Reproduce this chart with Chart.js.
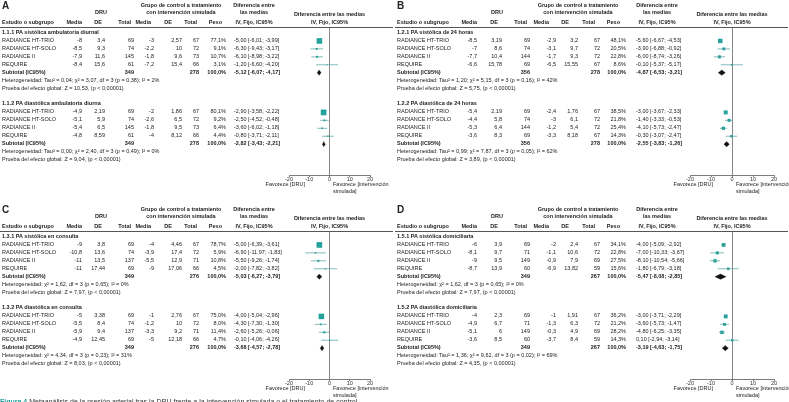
<!DOCTYPE html>
<html lang="es">
<head>
<meta charset="UTF-8">
<title>Metaanálisis DRU</title>
<script src="https://cdn.jsdelivr.net/npm/chart.js"></script>
<style>
  body { margin: 0; background: #fff; width: 789px; height: 402px; overflow: hidden; position: relative;
         font-family: "Liberation Sans", Arial, sans-serif; color: #222; }
  .panel { position: absolute; width: 395px; height: 198px; }
  .panel canvas { position: absolute; left: 0; top: 0; }
  .t { position: absolute; font-size: 5.5px; line-height: 1; white-space: nowrap; transform: translateY(-50%); }
  .b { font-weight: bold; }
  .rule { position: absolute; left: 0; width: 393px; top: 27px; border-top: 0.7px solid #555; }
  .letter { position: absolute; left: 2px; top: 0px; font-size: 10px; font-weight: bold; }
  .caption { position: absolute; left: 0; top: 398px; font-size: 7px; white-space: nowrap; color: #333; }
  .caption span { color: #1fa29c; font-weight: bold; }
</style>
</head>
<body>
<div id="fig"></div>
<div class="caption"><span>Figura 4</span> Metaanálisis de la presión arterial tras la DRU frente a la intervención simulada o el tratamiento de control.</div>
<script>
// ---- datos ----
const studies = ['RADIANCE HT-TRIO', 'RADIANCE HT-SOLO', 'RADIANCE II', 'REQUIRE'];
const axisTicks = [-20, -10, 0, 10, 20];

// A
const a1Title = '1.1.1 PA sistólica ambulatoria diurnal';
const a1Rows = [
  ['-8', '3,4', '69', '-3', '2,57', '67', '77,1%', '-5,00 [-6,01; -3,99]'],
  ['-8,5', '9,3', '74', '-2,2', '10', '72', '9,1%', '-6,30 [-9,43; -3,17]'],
  ['-7,9', '11,6', '145', '-1,8', '9,6', '73', '10,7%', '-6,10 [-8,98; -3,22]'],
  ['-8,4', '15,6', '61', '-7,2', '15,4', '66', '3,1%', '-1,20 [-6,60; -4,20]']
];
const a1Est = [-5.00, -6.30, -6.10, -1.20];
const a1Lo = [-6.01, -9.43, -8.98, -6.60];
const a1Hi = [-3.99, -3.17, -3.22, 4.20];
const a1Peso = [77.1, 9.1, 10.7, 3.1];
const a1Sub = ['349', '278', '100,0%', '-5,12 [-6,07; -4,17]'];
const a1SubCI = [-5.12, -6.07, -4.17];
const a1Het = 'Heterogeneidad: Tau² = 0,04; χ² = 3,07, df = 3 (p = 0,38); I² = 2%';
const a1Z = 'Prueba del efecto global: Z = 10,53, (p < 0,00001)';

const a2Title = '1.1.2 PA diastólica ambulatoria diurna';
const a2Rows = [
  ['-4,9', '2,19', '69', '-2', '1,86', '67', '80,1%', '-2,90 [-3,58; -2,22]'],
  ['-5,1', '5,9', '74', '-2,6', '6,5', '72', '9,2%', '-2,50 [-4,52; -0,48]'],
  ['-5,4', '6,5', '145', '-1,8', '9,5', '73', '6,4%', '-3,60 [-6,02; -1,18]'],
  ['-4,8', '8,59', '61', '-4', '8,12', '66', '4,4%', '-0,80 [-3,71; -2,11]']
];
const a2Est = [-2.90, -2.50, -3.60, -0.80];
const a2Lo = [-3.58, -4.52, -6.02, -3.71];
const a2Hi = [-2.22, -0.48, -1.18, 2.11];
const a2Peso = [80.1, 9.2, 6.4, 4.4];
const a2Sub = ['349', '278', '100,0%', '-2,82 [-3,43; -2,21]'];
const a2SubCI = [-2.82, -3.43, -2.21];
const a2Het = 'Heterogeneidad: Tau² = 0,00; χ² = 2,40, df = 3 (p = 0,49); I² = 0%';
const a2Z = 'Prueba del efecto global: Z = 9,04, (p < 0,00001)';

// B
const b1Title = '1.2.1 PA sistólica de 24 horas';
const b1Rows = [
  ['-8,5', '3,19', '69', '-2,9', '3,2', '67', '48,1%', '-5,60 [-6,67; -4,53]'],
  ['-7', '8,6', '74', '-3,1', '9,7', '72', '20,5%', '-3,90 [-6,88; -0,92]'],
  ['-7,7', '10,4', '144', '-1,7', '9,3', '72', '22,8%', '-6,00 [-8,74; -3,26]'],
  ['-6,6', '15,78', '69', '-6,5', '15,55', '67', '8,6%', '-0,10 [-5,37; -5,17]']
];
const b1Est = [-5.60, -3.90, -6.00, -0.10];
const b1Lo = [-6.67, -6.88, -8.74, -5.37];
const b1Hi = [-4.53, -0.92, -3.26, 5.17];
const b1Peso = [48.1, 20.5, 22.8, 8.6];
const b1Sub = ['356', '278', '100,0%', '-4,87 [-6,53; -3,21]'];
const b1SubCI = [-4.87, -6.53, -3.21];
const b1Het = 'Heterogeneidad: Tau² = 1,20; χ² = 5,15, df = 3 (p = 0,16); I² = 42%';
const b1Z = 'Prueba del efecto global: Z = 5,75, (p < 0,00001)';

const b2Title = '1.2.2 PA diastólica de 24 horas';
const b2Rows = [
  ['-5,4', '2,19', '69', '-2,4', '1,76', '67', '38,5%', '-3,00 [-3,67; -2,33]'],
  ['-4,4', '5,8', '74', '-3', '6,1', '72', '21,8%', '-1,40 [-3,33; -0,53]'],
  ['-5,3', '6,4', '144', '-1,2', '5,4', '72', '25,4%', '-4,10 [-5,73; -2,47]'],
  ['-3,6', '8,3', '69', '-3,3', '8,18', '67', '14,3%', '-0,30 [-3,07; -2,47]']
];
const b2Est = [-3.00, -1.40, -4.10, -0.30];
const b2Lo = [-3.67, -3.33, -5.73, -3.07];
const b2Hi = [-2.33, 0.53, -2.47, 2.47];
const b2Peso = [38.5, 21.8, 25.4, 14.3];
const b2Sub = ['356', '278', '100,0%', '-2,55 [-3,83; -1,26]'];
const b2SubCI = [-2.55, -3.83, -1.26];
const b2Het = 'Heterogeneidad: Tau² = 0,99; χ² = 7,87, df = 3 (p = 0,05); I² = 62%';
const b2Z = 'Prueba del efecto global: Z = 3,89, (p < 0,00001)';

// C
const c1Title = '1.3.1 PA sistólica en consulta';
const c1Rows = [
  ['-9', '3,8', '69', '-4', '4,46', '67', '78,7%', '-5,00 [-6,39; -3,61]'],
  ['-10,8', '13,6', '74', '-3,9', '17,4', '72', '5,9%', '-6,90 [-11,97; -1,83]'],
  ['-11', '13,5', '137', '-5,5', '12,9', '71', '10,8%', '-5,50 [-9,26; -1,74]'],
  ['-11', '17,44', '69', '-9', '17,06', '66', '4,5%', '-2,00 [-7,82; -3,82]']
];
const c1Est = [-5.00, -6.90, -5.50, -2.00];
const c1Lo = [-6.39, -11.97, -9.26, -7.82];
const c1Hi = [-3.61, -1.83, -1.74, 3.82];
const c1Peso = [78.7, 5.9, 10.8, 4.5];
const c1Sub = ['349', '276', '100,0%', '-5,03 [-6,27; -3,79]'];
const c1SubCI = [-5.03, -6.27, -3.79];
const c1Het = 'Heterogeneidad: χ² = 1,62, df = 3 (p = 0,65); I² = 0%';
const c1Z = 'Prueba del efecto global: Z = 7,97, (p < 0,00001)';

const c2Title = '1.3.2 PA diastólica en consulta';
const c2Rows = [
  ['-5', '3,38', '69', '-1', '2,76', '67', '75,0%', '-4,00 [-5,04; -2,96]'],
  ['-5,5', '8,4', '74', '-1,2', '10', '72', '8,0%', '-4,30 [-7,30; -1,30]'],
  ['-5,9', '9,4', '137', '-3,3', '9,2', '71', '11,4%', '-2,60 [-5,26; -0,06]'],
  ['-4,9', '12,45', '69', '-5', '12,18', '66', '4,7%', '-0,10 [-4,06; -4,26]']
];
const c2Est = [-4.00, -4.30, -2.60, 0.10];
const c2Lo = [-5.04, -7.30, -5.26, -4.06];
const c2Hi = [-2.96, -1.30, 0.06, 4.26];
const c2Peso = [75.0, 8.0, 11.4, 4.7];
const c2Sub = ['349', '276', '100,0%', '-3,68 [-4,57; -2,78]'];
const c2SubCI = [-3.68, -4.57, -2.78];
const c2Het = 'Heterogeneidad: χ² = 4,34, df = 3 (p = 0,23); I² = 31%';
const c2Z = 'Prueba del efecto global: Z = 8,03, (p < 0,00001)';

// D
const d1Title = '1.5.1 PA sistólica domiciliaria';
const d1Rows = [
  ['-6', '3,9', '69', '-2', '2,4', '67', '34,1%', '-4,00 [-5,09; -2,92]'],
  ['-8,1', '9,7', '71', '-1,1', '10,6', '72', '22,8%', '-7,00 [-10,33; -3,67]'],
  ['-9', '9,5', '149', '-0,9', '7,9', '69', '27,5%', '-8,10 [-10,54; -5,66]'],
  ['-8,7', '13,9', '60', '-6,9', '13,82', '59', '15,6%', '-1,80 [-6,79; -3,18]']
];
const d1Est = [-4.00, -7.00, -8.10, -1.80];
const d1Lo = [-5.09, -10.33, -10.54, -6.79];
const d1Hi = [-2.92, -3.67, -5.66, 3.18];
const d1Peso = [34.1, 22.8, 27.5, 15.6];
const d1Sub = ['349', '267', '100,0%', '-5,47 [-8,08; -2,85]'];
const d1SubCI = [-5.47, -8.08, -2.85];
const d1Het = 'Heterogeneidad: χ² = 1,62, df = 3 (p = 0,65); I² = 0%';
const d1Z = 'Prueba del efecto global: Z = 7,97, (p < 0,00001)';

const d2Title = '1.5.2 PA diastólica domiciliaria';
const d2Rows = [
  ['-4', '2,3', '69', '-1', '1,91', '67', '36,2%', '-3,00 [-3,71; -2,29]'],
  ['-4,9', '6,7', '71', '-1,3', '6,3', '72', '21,2%', '-3,60 [-5,73; -1,47]'],
  ['-5,1', '6', '149', '-0,3', '4,9', '69', '28,2%', '-4,80 [-6,25; -3,35]'],
  ['-3,6', '8,5', '60', '-3,7', '8,4', '59', '14,3%', '0,10 [-2,94; -3,14]']
];
const d2Est = [-3.00, -3.60, -4.80, 0.10];
const d2Lo = [-3.71, -5.73, -6.25, -2.94];
const d2Hi = [-2.29, -1.47, -3.35, 3.14];
const d2Peso = [36.2, 21.2, 28.2, 14.3];
const d2Sub = ['349', '267', '100,0%', '-3,19 [-4,63; -1,75]'];
const d2SubCI = [-3.19, -4.63, -1.75];
const d2Het = 'Heterogeneidad: Tau² = 1,36; χ² = 9,62, df = 3 (p = 0,02); I² = 69%';
const d2Z = 'Prueba del efecto global: Z = 4,35, (p < 0,00001)';

// ---- maquetación ----
const sec = (title, rows, est, lo, hi, peso, sub, subCI, het, z) => ({ title, rows, est, lo, hi, peso, sub, subCI, het, z });

// right edges of number columns, then left edge of CI text
const colsAC = { num: [82, 105, 134, 154, 182, 199, 226], ci: 234, hdr: [82, 102, 131, 151, 172, 197, 222],
                 grp: 181, dru: 101, dif: 254, plot: [289, 370], fav: [305, 333] };
const colsBD = { num: [82, 107, 135, 161, 183, 205, 231], ci: 241, hdr: [82, 103, 132, 154, 174, 200, 225],
                 grp: 183, dru: 102, dif: 262, plot: [295, 379], fav: [318, 341] };

const panels = [
  { letter: 'A', left: 0, top: 0, L: colsAC, sections: [
    sec(a1Title, a1Rows, a1Est, a1Lo, a1Hi, a1Peso, a1Sub, a1SubCI, a1Het, a1Z),
    sec(a2Title, a2Rows, a2Est, a2Lo, a2Hi, a2Peso, a2Sub, a2SubCI, a2Het, a2Z)] },
  { letter: 'B', left: 395, top: 0, L: colsBD, sections: [
    sec(b1Title, b1Rows, b1Est, b1Lo, b1Hi, b1Peso, b1Sub, b1SubCI, b1Het, b1Z),
    sec(b2Title, b2Rows, b2Est, b2Lo, b2Hi, b2Peso, b2Sub, b2SubCI, b2Het, b2Z)] },
  { letter: 'C', left: 0, top: 204, L: colsAC, sections: [
    sec(c1Title, c1Rows, c1Est, c1Lo, c1Hi, c1Peso, c1Sub, c1SubCI, c1Het, c1Z),
    sec(c2Title, c2Rows, c2Est, c2Lo, c2Hi, c2Peso, c2Sub, c2SubCI, c2Het, c2Z)] },
  { letter: 'D', left: 395, top: 204, L: colsBD, sections: [
    sec(d1Title, d1Rows, d1Est, d1Lo, d1Hi, d1Peso, d1Sub, d1SubCI, d1Het, d1Z),
    sec(d2Title, d2Rows, d2Est, d2Lo, d2Hi, d2Peso, d2Sub, d2SubCI, d2Het, d2Z)] }
];

const W = 395, H = 198;
const fig = document.getElementById('fig');

function txt(box, s, x, y, align, bold) {
  const d = document.createElement('div');
  d.className = 't' + (bold ? ' b' : '');
  d.textContent = s;
  if (align === 'r') d.style.right = (W - x) + 'px';
  else if (align === 'c') { d.style.left = x + 'px'; d.style.transform = 'translate(-50%,-50%)'; }
  else d.style.left = x + 'px';
  d.style.top = y + 'px';
  box.appendChild(d);
  return d;
}

panels.forEach(p => {
  const box = document.createElement('div');
  box.className = 'panel';
  box.style.left = p.left + 'px';
  box.style.top = p.top + 'px';
  fig.appendChild(box);

  const cv = document.createElement('canvas');
  cv.width = W; cv.height = H;
  box.appendChild(cv);

  const datasets = [];
  p.sections.forEach((s, k) => {
    const base = k * 9;
    s.est.forEach((e, i) => {
      const y = base + 1 + i;
      datasets.push({ type: 'line', data: [{ x: s.lo[i], y }, { x: s.hi[i], y }],
        borderColor: '#4f9c9e', borderWidth: 0.7, pointRadius: 0 });
    });
    datasets.push({ type: 'scatter', data: s.est.map((e, i) => ({ x: e, y: base + 1 + i })),
      pointStyle: 'rect', pointRadius: s.peso.map(w => 0.45 * Math.sqrt(w)),
      backgroundColor: '#1fa29c', borderWidth: 0 });
    const [e, lo, hi] = s.subCI, y = base + 5;
    datasets.push({ type: 'line', fill: 'shape', backgroundColor: '#111', borderColor: '#111',
      borderWidth: 0.4, pointRadius: 0,
      data: [{ x: lo, y }, { x: e, y: y - 0.33 }, { x: hi, y }, { x: e, y: y + 0.33 }, { x: lo, y }] });
  });

  const chart = new Chart(cv.getContext('2d'), {
    type: 'scatter',
    data: { datasets },
    options: {
      responsive: false, animation: false, events: [],
      layout: { padding: { left: p.L.plot[0], right: W - p.L.plot[1], top: 27, bottom: 11 } },
      plugins: { legend: { display: false }, tooltip: { enabled: false } },
      scales: {
        x: {
          type: 'linear', min: -20, max: 20,
          afterBuildTicks: sc => { sc.ticks = axisTicks.map(v => ({ value: v })); },
          afterFit: sc => { sc.height = 12; },
          ticks: { font: { size: 5.5, family: 'Liberation Sans' }, color: '#333', padding: -1.2, maxRotation: 0 },
          grid: { color: c => (c.tick && c.tick.value === 0 ? '#555' : 'rgba(0,0,0,0)'),
                  lineWidth: 0.7, tickLength: 2, tickColor: '#444' },
          border: { display: true, color: '#444', width: 0.7 }
        },
        y: { type: 'linear', display: false, reverse: true, min: -0.756, max: 17.88 }
      }
    }
  });

  const L = p.L;
  const Y = v => chart.scales.y.getPixelForValue(v);

  // headers
  const lt = document.createElement('div');
  lt.className = 'letter'; lt.textContent = p.letter; box.appendChild(lt);
  txt(box, 'Grupo de control a tratamiento', L.grp, 6, 'c', true);
  txt(box, 'con intervención simulada', L.grp, 13, 'c', true);
  txt(box, 'DRU', L.dru, 13, 'c', true);
  txt(box, 'Diferencia entre', L.dif, 6, 'c', true);
  txt(box, 'las medias', L.dif, 13, 'c', true);
  txt(box, 'IV, Fijo, IC95%', L.dif, 22.5, 'c', true);
  const pc = chart.scales.x.getPixelForValue(0);
  txt(box, 'Diferencia entre las medias', pc, 15, 'c', true);
  txt(box, 'IV, Fijo, IC95%', pc, 22.5, 'c', true);
  txt(box, 'Estudio o subgrupo', 2, 22.5, 'l', true);
  ['Media', 'DE', 'Total', 'Media', 'DE', 'Total', 'Peso'].forEach((h, i) => txt(box, h, L.hdr[i], 22.5, 'r', true));
  const rule = document.createElement('div');
  rule.className = 'rule'; box.appendChild(rule);

  // table
  p.sections.forEach((s, k) => {
    const base = k * 9;
    txt(box, s.title, 2, Y(base), 'l', true);
    s.rows.forEach((r, i) => {
      const y = Y(base + 1 + i);
      txt(box, studies[i], 2, y, 'l');
      r.slice(0, 7).forEach((v, j) => txt(box, v, L.num[j], y, 'r'));
      txt(box, r[7], L.ci, y, 'l');
    });
    const ys = Y(base + 5);
    txt(box, 'Subtotal (IC95%)', 2, ys, 'l', true);
    txt(box, s.sub[0], L.num[2], ys, 'r', true);
    txt(box, s.sub[1], L.num[5], ys, 'r', true);
    txt(box, s.sub[2], L.num[6], ys, 'r', true);
    txt(box, s.sub[3], L.ci, ys, 'l', true);
    txt(box, s.het, 2, Y(base + 6), 'l');
    txt(box, s.z, 2, Y(base + 7), 'l');
  });

  // axis captions
  txt(box, 'Favorece [DRU]', L.fav[0], 185, 'r');
  txt(box, 'Favorece [intervención', L.fav[1], 185, 'l');
  txt(box, 'simulada]', L.fav[1], 191.5, 'l');
});
</script>
</body>
</html>
